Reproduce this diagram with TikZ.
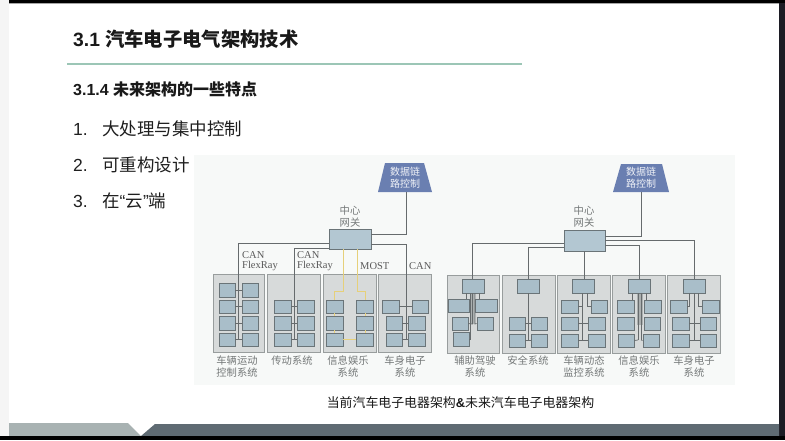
\documentclass[tikz,border=0pt]{standalone}
\usepackage{fontspec}
\setmainfont{Liberation Sans}
\newfontfamily\cjk{Noto Sans CJK SC}
\newfontfamily\lserif{Liberation Serif}
\usetikzlibrary{calc}
\definecolor{panelc}{HTML}{D7DADA}
\definecolor{panelb}{HTML}{989D9D}
\definecolor{boxc}{HTML}{A9BEC9}
\definecolor{boxb}{HTML}{6A7478}
\definecolor{gwc}{HTML}{B3C7D2}
\definecolor{trapc}{HTML}{6A7FB1}
\definecolor{busc}{HTML}{666B6D}
\definecolor{bund}{HTML}{ABB0B0}
\definecolor{yel}{HTML}{E6D07A}
\definecolor{lab}{HTML}{747878}
\definecolor{footl}{HTML}{A8B2B2}
\definecolor{footd}{HTML}{5F6B73}
\definecolor{rulec}{HTML}{9CC6B6}
\definecolor{scanc}{HTML}{F7F9F8}
\definecolor{edgec}{HTML}{1C1C24}
\tikzset{
  panel/.style={draw=panelb,fill=panelc,line width=.9pt,inner sep=0},
  sbox/.style={draw=boxb,fill=boxc,line width=.9pt,inner sep=0},
  gate/.style={draw=boxb,fill=gwc,line width=.9pt,inner sep=0},
  bus/.style={draw=busc,line width=.75pt},
  ybus/.style={draw=yel,line width=.9pt},
  lbl/.style={inner sep=0,text=lab,font=\cjk\fontsize{10.3}{12}\selectfont,align=center},
  net/.style={inner sep=0,text=black!65,font=\lserif\fontsize{10.5}{12}\selectfont},
  traptext/.style={inner sep=0,text=white!90!trapc,font=\cjk\fontsize{10}{12.2}\selectfont,align=center},
  hd/.style={inner sep=0,anchor=west,text=black!90},
  item/.style={inner sep=0,anchor=west,text=black!88,font=\fontsize{17.5}{20}\selectfont},
}
% name, style, x1, y1, x2, y2
\newcommand\bx[6]{\node[#2,minimum width={(#5-#3)*1pt},minimum height={(#6-#4)*1pt}] (#1) at ({(#3+#5)/2},{(#4+#6)/2}) {};}
\begin{document}
\begin{tikzpicture}[x=1pt,y=-1pt]
\useasboundingbox (0,0) rectangle (785,440);
% slide frame
\fill[white] (0,0) rectangle (785,440);
\fill[black!4] (0,0) rectangle (9,440);
\fill[black] (9,0) rectangle (785,3);
\fill[black!35] (9,3) rectangle (779,3.8);
\fill[edgec] (779,3) rectangle (785,440);
\fill[footl] (9,423) -- (128,423) -- (141,436) -- (9,436) -- cycle;
\fill[footd] (155,424) -- (779,424) -- (779,436) -- (141,436) -- cycle;
\fill[black] (0,436) rectangle (785,440);
% headings
\node[hd,font=\bfseries\fontsize{19.3}{22}\selectfont] (title) at (73,39) {3.1 {\cjk 汽车电子电气架构技术}};
\draw[rulec,line width=2pt] (67,64) -- (522,64);
\node[hd,font=\bfseries\fontsize{16}{18}\selectfont] (sub) at (73,89) {3.1.4 {\cjk 未来架构的一些特点}};
\node[item] (n1) at (73,129) {1.};
\node[item] (t1) at (102,129) {\cjk 大处理与集中控制};
\node[item] (n2) at (73,165) {2.};
\node[item] (t2) at (102,165) {\cjk 可重构设计};
\node[item] (n3) at (73,201) {3.};
\node[item] (t3) at (102,201) {{\cjk 在}“{\cjk 云}”{\cjk 端}};
\node[inner sep=0,text=black!90,font=\fontsize{12.9}{15}\selectfont] (cap) at (460.5,403) {\cjk 当前汽车电子电器架构{\bfseries\rmfamily\&}未来汽车电子电器架构};
% scan background
\fill[scanc] (194,155) rectangle (735,385);
% LEFT diagram
\fill[trapc] (385,163) -- (424,163) -- (432,192) -- (378,192) -- cycle;
\node[traptext] (trL) at (405,177.5) {数据链\\路控制};
\coordinate (trLb) at (406,192);
\node[lbl] (hubL) at (350,217) {中心\\网关};
\bx{gwL}{gate}{329}{229}{371}{249}
\bx{pa}{panel}{213}{274}{264}{352}
\bx{pb}{panel}{267}{274}{320}{352}
\bx{pc}{panel}{323}{274}{376}{352}
\bx{pd}{panel}{378}{274}{431}{352}
% panel a
\bx{a11}{sbox}{219}{283}{235}{297}\bx{a12}{sbox}{242}{283}{258}{297}
\bx{a21}{sbox}{219}{300}{235}{313}\bx{a22}{sbox}{242}{300}{258}{313}
\bx{a31}{sbox}{219}{316}{235}{330}\bx{a32}{sbox}{242}{316}{258}{330}
\bx{a41}{sbox}{219}{333}{235}{346}\bx{a42}{sbox}{242}{333}{258}{346}
% panel b
\bx{b11}{sbox}{274}{300}{291}{313}\bx{b12}{sbox}{297}{300}{314}{313}
\bx{b21}{sbox}{274}{316}{291}{330}\bx{b22}{sbox}{297}{316}{314}{330}
\bx{b31}{sbox}{274}{333}{291}{346}\bx{b32}{sbox}{297}{333}{314}{346}
% panel c
\bx{c11}{sbox}{326}{300}{343}{313}\bx{c12}{sbox}{356}{300}{373}{313}
\bx{c21}{sbox}{326}{316}{343}{330}\bx{c22}{sbox}{356}{316}{373}{330}
\bx{c31}{sbox}{326}{333}{343}{346}\bx{c32}{sbox}{356}{333}{373}{346}
% panel d
\bx{d11}{sbox}{382}{300}{399}{313}\bx{d12}{sbox}{412}{300}{428}{313}
\bx{d21}{sbox}{386}{316}{402}{330}\bx{d22}{sbox}{408}{316}{425}{330}
\bx{d31}{sbox}{386}{333}{402}{346}\bx{d32}{sbox}{408}{333}{425}{346}
% left connectors
\foreach \u/\v in {a11/a12,a21/a22,a31/a32,a41/a42,b11/b12,b21/b22,b31/b32,d11/d12,d21/d22,d31/d32}
  \draw[bus] (\u.east) -- (\v.west);
\coordinate (ta) at (238,339.5);
\coordinate (tb) at (294,339.5);
\coordinate (td) at (406,339.5);
\draw[bus] (trLb) |- (gwL.east |- 0,234);
\draw[bus] (gwL.west |- 0,243.7) -| (ta);
\draw[bus] (gwL.west |- 0,248) -| (tb);
\draw[bus] (gwL.east |- 0,244) -| (td);
\draw[ybus] (343,249) -- (343,291) -- (334,291) -- (334,300);
\draw[ybus] (357,249) -- (357,291) -- (365,291) -- (365,300);
\draw[ybus] (c31.east) -- (c32.west);
\draw[ybus] (334,313) -- (334,316);
\draw[ybus] (334,330) -- (334,333);
\draw[ybus] (365,313) -- (365,316);
\draw[ybus] (365,330) -- (365,333);
\node[net,anchor=west] (l1) at (242,255) {CAN};
\node[net,anchor=west] (l2) at (242,266) {FlexRay};
\node[net,anchor=west] (l3) at (297,255) {CAN};
\node[net,anchor=west] (l4) at (297,266) {FlexRay};
\node[net,anchor=west] (l5) at (360,266) {MOST};
\node[net,anchor=west] (l6) at (409,266) {CAN};
\node[lbl] (la) at (237,366.5) {车辆运动\\控制系统};
\node[lbl] (lb) at (292,361) {传动系统};
\node[lbl] (lc) at (348,366.5) {信息娱乐\\系统};
\node[lbl] (ld) at (405,366.5) {车身电子\\系统};
% RIGHT diagram
\fill[trapc] (621,164) -- (662,164) -- (669,192) -- (613,192) -- cycle;
\node[traptext] (trR) at (641,178) {数据链\\路控制};
\coordinate (trRb) at (641,192);
\node[lbl] (hubR) at (584,217) {中心\\网关};
\bx{gwR}{gate}{564}{230}{605}{251}
\bx{pe}{panel}{447}{275}{499}{353}
\bx{pf}{panel}{502}{275}{555}{353}
\bx{pg}{panel}{557}{275}{610}{353}
\bx{ph}{panel}{612}{275}{665}{353}
\bx{pi}{panel}{667}{275}{720}{353}
% bundles under the boxes
\fill[bund] (470,293) rectangle (475,324);
\fill[bund] (636.5,293) rectangle (642.5,325);
\bx{e0}{sbox}{462}{279}{484}{293}
\bx{f0}{sbox}{517}{279}{539}{293}
\bx{g0}{sbox}{572}{279}{594}{293}
\bx{h0}{sbox}{628}{279}{650}{293}
\bx{i0}{sbox}{683}{279}{705}{293}
% panel e
\bx{e11}{sbox}{448}{299}{469}{312}\bx{e12}{sbox}{475}{299}{497}{312}
\bx{e21}{sbox}{452}{317}{468}{330}\bx{e22}{sbox}{477}{317}{493}{330}
\bx{e31}{sbox}{453}{332}{469}{346}
% panel f
\bx{f21}{sbox}{509}{317}{525}{330}\bx{f22}{sbox}{531}{317}{547}{330}
\bx{f31}{sbox}{509}{334}{525}{347}\bx{f32}{sbox}{531}{334}{547}{347}
% panel g
\bx{g11}{sbox}{561}{300}{578}{313}\bx{g12}{sbox}{591}{300}{607}{313}
\bx{g21}{sbox}{561}{317}{578}{330}\bx{g22}{sbox}{588}{317}{605}{330}
\bx{g31}{sbox}{561}{334}{578}{347}\bx{g32}{sbox}{588}{334}{605}{347}
% panel h
\bx{h11}{sbox}{617}{300}{634}{313}\bx{h12}{sbox}{644}{300}{661}{313}
\bx{h21}{sbox}{617}{317}{634}{330}\bx{h22}{sbox}{644}{317}{660}{330}
\bx{h31}{sbox}{618}{334}{634}{347}\bx{h32}{sbox}{643}{334}{659}{347}
% panel i
\bx{i11}{sbox}{670}{300}{687}{313}\bx{i12}{sbox}{702}{300}{719}{313}
\bx{i21}{sbox}{672}{317}{689}{330}\bx{i22}{sbox}{700}{317}{716}{330}
\bx{i31}{sbox}{672}{334}{689}{347}\bx{i32}{sbox}{700}{334}{716}{347}
% right connectors
\draw[bus] (trRb) |- (gwR.east |- 0,236);
\draw[bus] (gwR.west |- 0,243) -| (e0.north -| 472,0);
\draw[bus] (gwR.west |- 0,247) -| (f0.north);
\draw[bus] (gwR.south) -- (gwR.south |- g0.north);
\draw[bus] (gwR.east |- 0,245) -| (h0.north);
\draw[bus] (gwR.east |- 0,240) -| (i0.north);
% internal trunks
\draw[bus] (470,293) -- (470,339) -- (e31.east);
\draw[bus] (472.5,293) -- (472.5,324) -- (e21.east);
\draw[bus] (475,293) -- (475,324) -- (e22.west);
\draw[bus] (466,293) -- (466,299);
\draw[bus] (479,293) -- (479,299);
\draw[bus] (f0.south) -- (528,341);
\foreach \u/\v in {f21/f22,f31/f32,g21/g22,g31/g32,i21/i22,i31/i32}
  \draw[bus] (\u.east) -- (\v.west);
\draw[bus] (582.5,293) -- (582.5,340.5);
\draw[bus] (g11.east) -- (582.5,306.5);
\draw[bus] (587,293) -- (587,306.5) -- (g12.west);
\draw[bus] (638,293) -- (638,340);
\draw[bus] (641,293) -- (641,340);
\draw[bus] (h31.east) -- (638,340);
\draw[bus] (h32.west) -- (641,340);
\draw[bus] (632,293) -- (632,300);
\draw[bus] (646,293) -- (646,300);
\draw[bus] (i0.south) -- (694,340.5);
\draw[bus] (689,293) -- (689,306.5) -- (i11.east);
\draw[bus] (698,293) -- (698,306.5) -- (i12.west);
\node[lbl] (le) at (475,366.5) {辅助驾驶\\系统};
\node[lbl] (lf) at (528,361) {安全系统};
\node[lbl] (lg) at (584,366.5) {车辆动态\\监控系统};
\node[lbl] (lh) at (639,366.5) {信息娱乐\\系统};
\node[lbl] (li) at (694,366.5) {车身电子\\系统};
\end{tikzpicture}
\end{document}
